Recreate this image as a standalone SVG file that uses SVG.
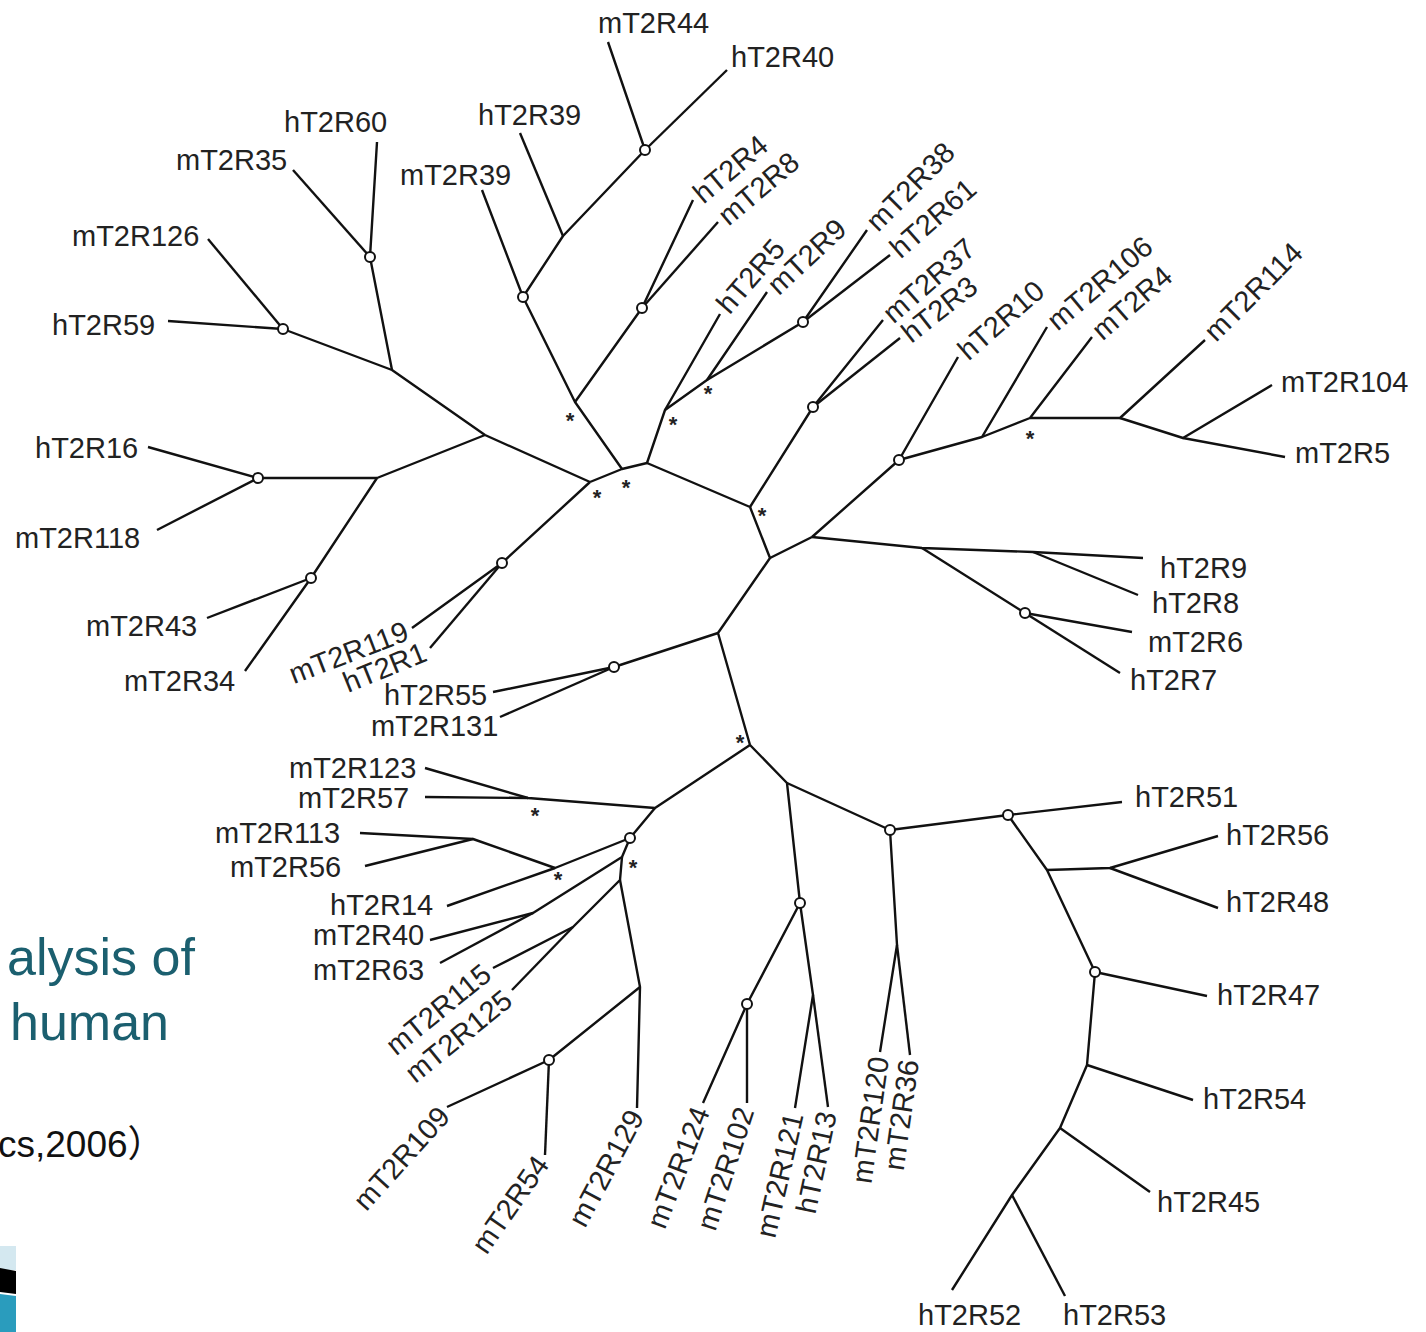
<svg xmlns="http://www.w3.org/2000/svg" width="1426" height="1332" viewBox="0 0 1426 1332">
<style>
.br{fill:none;stroke:#111;stroke-width:2.4;stroke-linejoin:round}
.nd{fill:#fff;stroke:#111;stroke-width:2}
.lb{font-family:"Liberation Sans",Arial,sans-serif;font-size:29px;fill:#222}
.rs{font-family:"Liberation Sans",Arial,sans-serif;font-size:29px;fill:#222;dominant-baseline:central}
.re{font-family:"Liberation Sans",Arial,sans-serif;font-size:29px;fill:#222;dominant-baseline:central;text-anchor:end}
.ast{font-family:"Liberation Sans",Arial,sans-serif;font-size:22px;font-weight:bold;fill:#222;text-anchor:middle}
.ti{font-family:"Liberation Sans",Arial,sans-serif;font-size:52px;fill:#1b5f6f}
</style>
<rect width="1426" height="1332" fill="#fff"/>
<g id="slide-fragments">
<text class="ti" x="7" y="975">alysis of</text>
<text class="ti" x="10" y="1040">human</text>
<text x="-2" y="1157" style="font-family:'Liberation Sans','Noto Sans CJK SC',sans-serif;font-size:37px;fill:#111">cs,2006）</text>
<rect x="0" y="1246" width="16" height="24" fill="#d4e8f0"/>
<polygon points="0,1268 16,1271 16,1294 0,1292" fill="#000"/>
<polygon points="0,1294 16,1296 16,1332 0,1332" fill="#2a9cbd"/>
</g>
<g id="connectors">
<path class="br" d="M590,482 L622,469 L647,463 L750,507 L770,558 L718,633 L750,745"/>
<path class="br" d="M590,482 L485,435 L392,370 L283,329"/>
<path class="br" d="M392,370 L370,257 L377,142"/>
<path class="br" d="M370,257 L293,170"/>
<path class="br" d="M283,329 L208,239"/>
<path class="br" d="M283,329 L168,321"/>
<path class="br" d="M485,435 L377,478 L258,478 L148,447"/>
<path class="br" d="M258,478 L157,530"/>
<path class="br" d="M377,478 L311,578 L245,671"/>
<path class="br" d="M311,578 L207,618"/>
<path class="br" d="M590,482 L502,563 L412,628"/>
<path class="br" d="M502,563 L430,648"/>
<path class="br" d="M622,469 L575,402 L523,297 L482,190"/>
<path class="br" d="M523,297 L563,236 L645,150 L608,42"/>
<path class="br" d="M645,150 L727,70"/>
<path class="br" d="M563,236 L520,133"/>
<path class="br" d="M575,402 L642,308 L693,200"/>
<path class="br" d="M642,308 L718,222"/>
<path class="br" d="M647,463 L665,410 L720,314"/>
<path class="br" d="M665,410 L707,380 L767,292"/>
<path class="br" d="M707,380 L803,322 L867,230"/>
<path class="br" d="M803,322 L890,255"/>
<path class="br" d="M750,507 L813,407 L883,320"/>
<path class="br" d="M813,407 L900,338"/>
<path class="br" d="M770,558 L812,537 L899,460 L958,357"/>
<path class="br" d="M899,460 L982,437 L1047,327"/>
<path class="br" d="M982,437 L1030,418 L1092,337"/>
<path class="br" d="M1030,418 L1120,418 L1205,340"/>
<path class="br" d="M1120,418 L1183,438 L1272,385"/>
<path class="br" d="M1183,438 L1285,457"/>
<path class="br" d="M812,537 L922,548 L1033,552 L1143,558"/>
<path class="br" d="M1033,552 L1138,595"/>
<path class="br" d="M922,548 L1025,613 L1132,632"/>
<path class="br" d="M1025,613 L1120,673"/>
<path class="br" d="M718,633 L614,667 L493,692"/>
<path class="br" d="M614,667 L500,717"/>
<path class="br" d="M750,745 L655,808 L528,798 L425,768"/>
<path class="br" d="M528,798 L425,797"/>
<path class="br" d="M655,808 L630,838 L555,868 L447,906"/>
<path class="br" d="M555,868 L473,839 L360,833"/>
<path class="br" d="M473,839 L365,866"/>
<path class="br" d="M630,838 L622,857 L533,913 L430,940"/>
<path class="br" d="M533,913 L440,963"/>
<path class="br" d="M622,857 L620,880 L573,927 L493,968"/>
<path class="br" d="M573,927 L512,990"/>
<path class="br" d="M620,880 L640,987 L637,1108"/>
<path class="br" d="M640,987 L549,1060 L447,1107"/>
<path class="br" d="M549,1060 L545,1155"/>
<path class="br" d="M750,745 L787,783 L800,903 L813,995 L795,1108"/>
<path class="br" d="M813,995 L828,1107"/>
<path class="br" d="M800,903 L747,1004 L703,1103"/>
<path class="br" d="M747,1004 L747,1103"/>
<path class="br" d="M787,783 L890,830 L897,945 L880,1052"/>
<path class="br" d="M897,945 L910,1055"/>
<path class="br" d="M890,830 L1008,815 L1122,802"/>
<path class="br" d="M1008,815 L1047,870 L1095,972 L1087,1065 L1060,1128 L1012,1195 L952,1290"/>
<path class="br" d="M1012,1195 L1065,1296"/>
<path class="br" d="M1047,870 L1110,868 L1218,836"/>
<path class="br" d="M1110,868 L1218,908"/>
<path class="br" d="M1095,972 L1207,996"/>
<path class="br" d="M1087,1065 L1193,1100"/>
<path class="br" d="M1060,1128 L1150,1192"/>
</g>
<g id="internal-nodes">
<circle class="nd" cx="370" cy="257" r="5"/>
<circle class="nd" cx="283" cy="329" r="5"/>
<circle class="nd" cx="258" cy="478" r="5"/>
<circle class="nd" cx="311" cy="578" r="5"/>
<circle class="nd" cx="502" cy="563" r="5"/>
<circle class="nd" cx="523" cy="297" r="5"/>
<circle class="nd" cx="645" cy="150" r="5"/>
<circle class="nd" cx="642" cy="308" r="5"/>
<circle class="nd" cx="803" cy="322" r="5"/>
<circle class="nd" cx="813" cy="407" r="5"/>
<circle class="nd" cx="899" cy="460" r="5"/>
<circle class="nd" cx="1025" cy="613" r="5"/>
<circle class="nd" cx="614" cy="667" r="5"/>
<circle class="nd" cx="630" cy="838" r="5"/>
<circle class="nd" cx="549" cy="1060" r="5"/>
<circle class="nd" cx="800" cy="903" r="5"/>
<circle class="nd" cx="747" cy="1004" r="5"/>
<circle class="nd" cx="890" cy="830" r="5"/>
<circle class="nd" cx="1008" cy="815" r="5"/>
<circle class="nd" cx="1095" cy="972" r="5"/>
<text class="ast" x="597" y="505">*</text>
<text class="ast" x="626" y="495">*</text>
<text class="ast" x="570" y="428">*</text>
<text class="ast" x="673" y="432">*</text>
<text class="ast" x="708" y="401">*</text>
<text class="ast" x="762" y="523">*</text>
<text class="ast" x="1030" y="446">*</text>
<text class="ast" x="740" y="750">*</text>
<text class="ast" x="535" y="823">*</text>
<text class="ast" x="558" y="887">*</text>
<text class="ast" x="633" y="875">*</text>
</g>
<g id="leaf-mT2R44"><text class="lb" x="598" y="33">mT2R44</text></g>
<g id="leaf-hT2R40"><text class="lb" x="731" y="67">hT2R40</text></g>
<g id="leaf-hT2R60"><text class="lb" x="284" y="132">hT2R60</text></g>
<g id="leaf-hT2R39"><text class="lb" x="478" y="125">hT2R39</text></g>
<g id="leaf-mT2R35"><text class="lb" x="176" y="170">mT2R35</text></g>
<g id="leaf-mT2R39"><text class="lb" x="400" y="185">mT2R39</text></g>
<g id="leaf-mT2R126"><text class="lb" x="72" y="246">mT2R126</text></g>
<g id="leaf-hT2R59"><text class="lb" x="52" y="335">hT2R59</text></g>
<g id="leaf-hT2R16"><text class="lb" x="35" y="458">hT2R16</text></g>
<g id="leaf-mT2R118"><text class="lb" x="15" y="548">mT2R118</text></g>
<g id="leaf-mT2R43"><text class="lb" x="86" y="636">mT2R43</text></g>
<g id="leaf-mT2R34"><text class="lb" x="124" y="691">mT2R34</text></g>
<g id="leaf-hT2R55"><text class="lb" x="384" y="705">hT2R55</text></g>
<g id="leaf-mT2R131"><text class="lb" x="371" y="736">mT2R131</text></g>
<g id="leaf-mT2R123"><text class="lb" x="289" y="778">mT2R123</text></g>
<g id="leaf-mT2R57"><text class="lb" x="298" y="808">mT2R57</text></g>
<g id="leaf-mT2R113"><text class="lb" x="215" y="843">mT2R113</text></g>
<g id="leaf-mT2R56"><text class="lb" x="230" y="877">mT2R56</text></g>
<g id="leaf-hT2R14"><text class="lb" x="330" y="915">hT2R14</text></g>
<g id="leaf-mT2R40"><text class="lb" x="313" y="945">mT2R40</text></g>
<g id="leaf-mT2R63"><text class="lb" x="313" y="980">mT2R63</text></g>
<g id="leaf-mT2R104"><text class="lb" x="1281" y="392">mT2R104</text></g>
<g id="leaf-mT2R5"><text class="lb" x="1295" y="463">mT2R5</text></g>
<g id="leaf-hT2R9"><text class="lb" x="1160" y="578">hT2R9</text></g>
<g id="leaf-hT2R8"><text class="lb" x="1152" y="613">hT2R8</text></g>
<g id="leaf-mT2R6"><text class="lb" x="1148" y="652">mT2R6</text></g>
<g id="leaf-hT2R7"><text class="lb" x="1130" y="690">hT2R7</text></g>
<g id="leaf-hT2R51"><text class="lb" x="1135" y="807">hT2R51</text></g>
<g id="leaf-hT2R56"><text class="lb" x="1226" y="845">hT2R56</text></g>
<g id="leaf-hT2R48"><text class="lb" x="1226" y="912">hT2R48</text></g>
<g id="leaf-hT2R47"><text class="lb" x="1217" y="1005">hT2R47</text></g>
<g id="leaf-hT2R54"><text class="lb" x="1203" y="1109">hT2R54</text></g>
<g id="leaf-hT2R45"><text class="lb" x="1157" y="1212">hT2R45</text></g>
<g id="leaf-hT2R52"><text class="lb" x="918" y="1325">hT2R52</text></g>
<g id="leaf-hT2R53"><text class="lb" x="1063" y="1325">hT2R53</text></g>
<g id="leaf-hT2R4"><text class="rs" transform="translate(697,197) rotate(-40)">hT2R4</text></g>
<g id="leaf-mT2R8"><text class="rs" transform="translate(722,219) rotate(-40)">mT2R8</text></g>
<g id="leaf-hT2R5"><text class="rs" transform="translate(722,309) rotate(-49)">hT2R5</text></g>
<g id="leaf-mT2R9"><text class="rs" transform="translate(772,289) rotate(-43)">mT2R9</text></g>
<g id="leaf-mT2R38"><text class="rs" transform="translate(871,226) rotate(-45)">mT2R38</text></g>
<g id="leaf-hT2R61"><text class="rs" transform="translate(894,252) rotate(-41)">hT2R61</text></g>
<g id="leaf-mT2R37"><text class="rs" transform="translate(887,317) rotate(-41)">mT2R37</text></g>
<g id="leaf-hT2R3"><text class="rs" transform="translate(905,336) rotate(-38)">hT2R3</text></g>
<g id="leaf-hT2R10"><text class="rs" transform="translate(962,354) rotate(-41)">hT2R10</text></g>
<g id="leaf-mT2R106"><text class="rs" transform="translate(1051,324) rotate(-40)">mT2R106</text></g>
<g id="leaf-mT2R4"><text class="rs" transform="translate(1096,334) rotate(-41)">mT2R4</text></g>
<g id="leaf-mT2R114"><text class="rs" transform="translate(1209,336) rotate(-45)">mT2R114</text></g>
<g id="leaf-mT2R119"><text class="re" transform="translate(407,630) rotate(-21)">mT2R119</text></g>
<g id="leaf-hT2R1"><text class="re" transform="translate(425,651) rotate(-22)">hT2R1</text></g>
<g id="leaf-mT2R115"><text class="re" transform="translate(487,970) rotate(-39)">mT2R115</text></g>
<g id="leaf-mT2R125"><text class="re" transform="translate(508,996) rotate(-39)">mT2R125</text></g>
<g id="leaf-mT2R109"><text class="re" transform="translate(444,1111) rotate(-48)">mT2R109</text></g>
<g id="leaf-mT2R54"><text class="re" transform="translate(542,1159) rotate(-55)">mT2R54</text></g>
<g id="leaf-mT2R129"><text class="re" transform="translate(636,1112) rotate(-62)">mT2R129</text></g>
<g id="leaf-mT2R124"><text class="re" transform="translate(701,1108) rotate(-69)">mT2R124</text></g>
<g id="leaf-mT2R102"><text class="re" transform="translate(745,1108) rotate(-72)">mT2R102</text></g>
<g id="leaf-mT2R121"><text class="re" transform="translate(794,1113) rotate(-77)">mT2R121</text></g>
<g id="leaf-hT2R13"><text class="re" transform="translate(827,1112) rotate(-78)">hT2R13</text></g>
<g id="leaf-mT2R120"><text class="re" transform="translate(879,1057) rotate(-82)">mT2R120</text></g>
<g id="leaf-mT2R36"><text class="re" transform="translate(909,1060) rotate(-82)">mT2R36</text></g>
</svg>
